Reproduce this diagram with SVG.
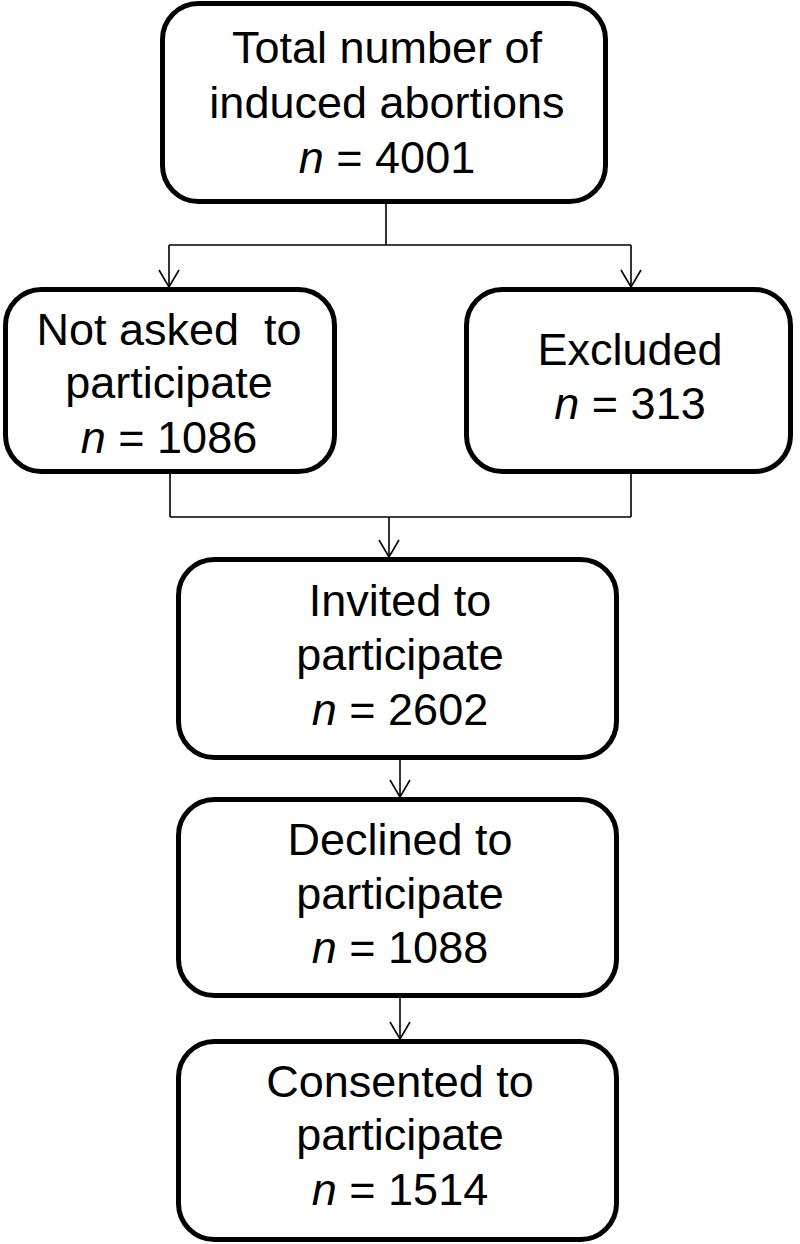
<svg xmlns="http://www.w3.org/2000/svg" width="800" height="1244" viewBox="0 0 800 1244">
<style>
.box{fill:#fff;stroke:#000;stroke-width:5}
.t{font-family:"Liberation Sans",Arial,sans-serif;font-size:45px;fill:#000;text-anchor:middle}
.i{font-style:italic}
.c{fill:none;stroke:#000;stroke-width:1.6}
</style>
<defs>
<marker id="arr" markerUnits="userSpaceOnUse" viewBox="-1 -11 19 22" markerWidth="19" markerHeight="22" refX="17" refY="0" orient="auto">
<path d="M0,-10 L17,0 L0,10" fill="none" stroke="#000" stroke-width="1.6"/>
</marker>
</defs>
<rect width="800" height="1244" fill="#fff"/>
<g id="connectors">
<path class="c" d="M386,204 V245"/>
<path class="c" d="M169,245 H631"/>
<path class="c" d="M169,245 V287" marker-end="url(#arr)"/>
<path class="c" d="M631,245 V287" marker-end="url(#arr)"/>
<path class="c" d="M170,474 V517 M631,474 V517 M170,517 H631"/>
<path class="c" d="M389,517 V557" marker-end="url(#arr)"/>
<path class="c" d="M400,760 V797" marker-end="url(#arr)"/>
<path class="c" d="M400,998 V1039" marker-end="url(#arr)"/>
</g>
<g id="total">
<rect class="box" x="162.5" y="3.5" width="443" height="198" rx="36"/>
<text class="t" x="387" y="63">Total number of</text>
<text class="t" x="387" y="118">induced abortions</text>
<text class="t" x="387" y="173"><tspan class="i">n</tspan> = 4001</text>
</g>
<g id="notasked">
<rect class="box" x="5.5" y="289.5" width="329" height="182" rx="36"/>
<text class="t" x="169" y="345" xml:space="preserve">Not asked  to</text>
<text class="t" x="169" y="398">participate</text>
<text class="t" x="169" y="453"><tspan class="i">n</tspan> = 1086</text>
</g>
<g id="excluded">
<rect class="box" x="466.5" y="289.5" width="324" height="182" rx="36"/>
<text class="t" x="630" y="365">Excluded</text>
<text class="t" x="630" y="419"><tspan class="i">n</tspan> = 313</text>
</g>
<g id="invited">
<rect class="box" x="178.5" y="559.5" width="438" height="198" rx="36"/>
<text class="t" x="400" y="616">Invited to</text>
<text class="t" x="400" y="670">participate</text>
<text class="t" x="400" y="725"><tspan class="i">n</tspan> = 2602</text>
</g>
<g id="declined">
<rect class="box" x="178.5" y="799.5" width="438" height="196" rx="36"/>
<text class="t" x="400" y="855">Declined to</text>
<text class="t" x="400" y="909">participate</text>
<text class="t" x="400" y="963"><tspan class="i">n</tspan> = 1088</text>
</g>
<g id="consented">
<rect class="box" x="178.5" y="1041.5" width="438" height="198" rx="36"/>
<text class="t" x="400" y="1097">Consented to</text>
<text class="t" x="400" y="1150">participate</text>
<text class="t" x="400" y="1205"><tspan class="i">n</tspan> = 1514</text>
</g>
</svg>
